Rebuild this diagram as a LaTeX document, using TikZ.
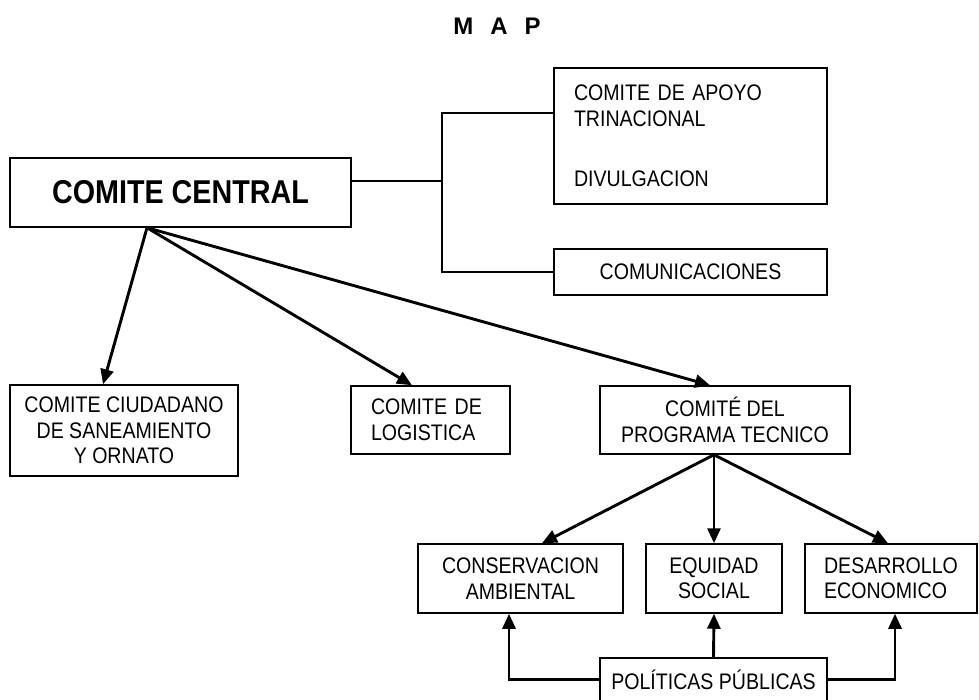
\documentclass[tikz,border=0pt]{standalone}
\usepackage{fontspec}
\setmainfont{Liberation Sans}[FakeStretch=0.87]
\newfontfamily\titlefont{Liberation Sans}
\usetikzlibrary{arrows.meta}
\newcommand{\boxline}{1.5pt}
\newcommand{\arrowline}{2.9pt}
\newcommand{\textsz}{\fontsize{22.5pt}{25.5pt}\selectfont}

\begin{document}
\begin{tikzpicture}[x=1pt,y=-1pt,
  orgbox/.style={draw, line width=\boxline, inner sep=0pt, font=\textsz, align=center},
  link/.style={line width=2pt},
  arr/.style={line width=\arrowline, -{Triangle[length=15pt,width=13pt]}}]
\useasboundingbox (0,0) rectangle (979,700);
\node[font=\titlefont\fontsize{24pt}{28pt}\selectfont\bfseries, anchor=base] (title) at (497,35) {M\hspace{17pt}A\hspace{17pt}P};
%top
\node[orgbox, minimum width=341pt, minimum height=69pt, font=\fontsize{33pt}{38pt}\selectfont\bfseries] (central) at (180.5,192.5) {COMITE CENTRAL};
\node[orgbox, minimum width=273pt, minimum height=136pt, align=left, text width=233pt, inner xsep=20pt] (apoyo) at (690.5,136) {COMITE DE APOYO\\TRINACIONAL\\[34.5pt]DIVULGACION};
\node[orgbox, minimum width=273pt, minimum height=46pt] (comunic) at (690.5,272) {COMUNICACIONES};
%middle
\node[orgbox, minimum width=228pt, minimum height=91pt] (ciudadano) at (124,430.5) {COMITE CIUDADANO\\DE SANEAMIENTO\\Y ORNATO};
\node[orgbox, minimum width=159pt, minimum height=68pt, align=left, text width=119pt, inner xsep=20pt] (logistica) at (430.5,420) {COMITE DE\\LOGISTICA};
\node[orgbox, minimum width=250pt, minimum height=68pt] (programa) at (725,420) {COMITÉ DEL\\PROGRAMA TECNICO};
%bottom
\node[orgbox, minimum width=205pt, minimum height=69pt] (conservacion) at (520.5,578.5) {CONSERVACION\\AMBIENTAL};
\node[orgbox, minimum width=136pt, minimum height=69pt] (equidad) at (714,578.5) {EQUIDAD\\SOCIAL};
\node[orgbox, minimum width=172pt, minimum height=69pt, align=left] (desarrollo) at (891,578.5) {DESARROLLO\\ECONOMICO};
\node[orgbox, minimum width=227pt, minimum height=43pt] (politicas) at (713.5,679.5) {POLÍTICAS PÚBLICAS};
%bracket
\coordinate (jmid) at (442,181);
\draw[link] (central.east |- jmid) -- (jmid);
\draw[link] ([yshift=23pt]apoyo.west) -| (jmid |- comunic.west) -- (comunic.west);
%arrows
\draw[arr] ([xshift=-33.5pt]central.south) -- ([xshift=-21pt]ciudadano.north);
\draw[arr] ([xshift=-33.5pt]central.south) -- ([xshift=-18.5pt]logistica.north);
\draw[arr] ([xshift=-33.5pt]central.south) -- ([xshift=-15pt]programa.north);
\draw[arr] ([xshift=-11pt]programa.south) -- ([xshift=21.5pt]conservacion.north);
\draw[arr] ([xshift=-11pt]programa.south) -- (equidad.north);
\draw[arr] ([xshift=-11pt]programa.south) -- ([xshift=-3pt]desarrollo.north);
\draw[arr] (politicas.west) -| ([xshift=-11.5pt]conservacion.south);
\draw[arr] (politicas.north) -- (equidad.south);
\draw[arr] (politicas.east) -| ([xshift=4pt]desarrollo.south);
\end{tikzpicture}
\end{document}
